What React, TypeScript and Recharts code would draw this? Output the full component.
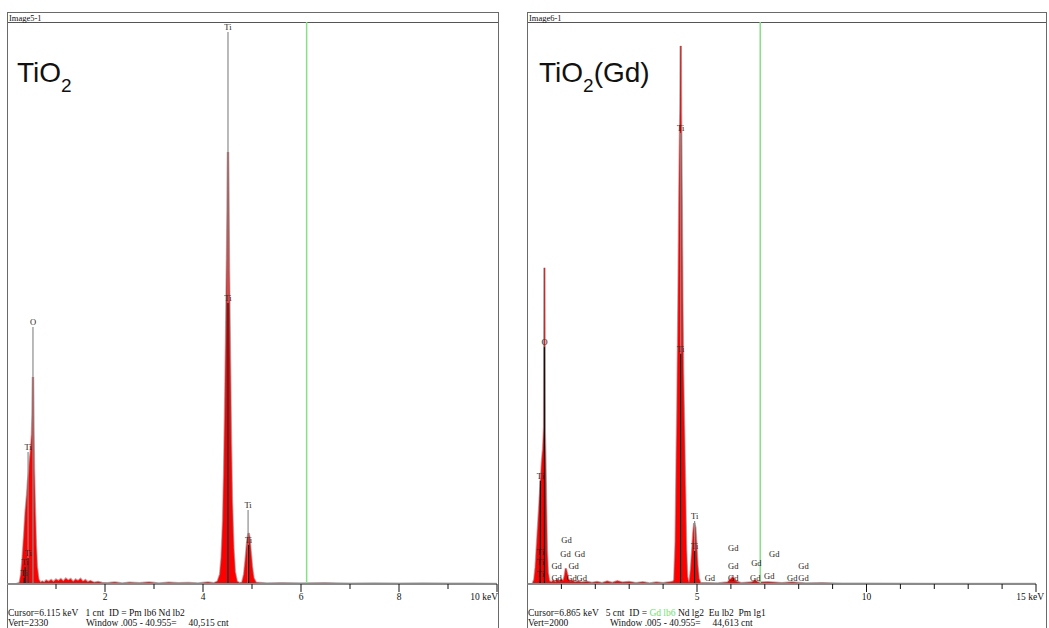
import React from "react";
import { ComposedChart, Area, XAxis, YAxis, ReferenceLine, Scatter } from "recharts";

// spectrum of TiO2: [keV, counts]
const tioSpectrum: [number, number][] = [
  [0.2, 0], [0.26, 5], [0.29, 40], [0.32, 110], [0.35, 200], [0.38, 300], [0.41, 370], [0.43, 430],
  [0.45, 460], [0.47, 520], [0.49, 560], [0.51, 620], [0.52, 700], [0.53, 858], [0.54, 650], [0.55, 480],
  [0.57, 300], [0.59, 160], [0.61, 70], [0.64, 20], [0.68, 5],
  [0.72, 10], [0.76, 6], [0.8, 14], [0.85, 9], [0.9, 16], [0.95, 8], [1.0, 18], [1.05, 12], [1.1, 20],
  [1.15, 10], [1.2, 22], [1.25, 14], [1.3, 20], [1.35, 8], [1.4, 18], [1.45, 12], [1.5, 21], [1.55, 9],
  [1.6, 16], [1.65, 7], [1.7, 12], [1.78, 5], [1.86, 8], [1.94, 4], [2.05, 3], [2.2, 6], [2.35, 2],
  [2.5, 5], [2.7, 3], [2.9, 6], [3.1, 2], [3.3, 5], [3.5, 3], [3.7, 4], [3.9, 2], [4.1, 6], [4.22, 3],
  [4.3, 10], [4.35, 40], [4.38, 110], [4.41, 260], [4.43, 450], [4.45, 700], [4.47, 1000], [4.49, 1350],
  [4.5, 1550], [4.51, 1791], [4.52, 1600], [4.53, 1300], [4.55, 950], [4.57, 600], [4.59, 350],
  [4.62, 150], [4.65, 50], [4.69, 10], [4.74, 4],
  [4.8, 5], [4.84, 40], [4.87, 100], [4.9, 170], [4.92, 200], [4.93, 211], [4.95, 190], [4.97, 140],
  [5.0, 70], [5.03, 25], [5.08, 5],
  [5.3, 2], [5.6, 3], [6.0, 2], [6.5, 3], [7.0, 1], [7.5, 2], [8.0, 1], [8.5, 2], [9.0, 1], [9.5, 1], [10, 0],
];

// spectrum of TiO2(Gd)
const gdSpectrum: [number, number][] = [
  [0.15, 0], [0.2, 15], [0.24, 60], [0.28, 140], [0.32, 220], [0.36, 300], [0.4, 380], [0.43, 440],
  [0.46, 480], [0.48, 530], [0.49, 560], [0.5, 1125], [0.51, 540], [0.53, 420], [0.55, 260], [0.57, 120],
  [0.6, 40], [0.64, 10], [0.7, 6],
  [0.76, 12], [0.82, 6], [0.88, 14], [0.94, 8], [1.0, 16], [1.06, 10], [1.1, 30], [1.13, 55], [1.16, 40],
  [1.2, 18], [1.26, 8], [1.32, 12], [1.4, 6], [1.5, 9], [1.6, 5], [1.75, 8], [1.9, 4], [2.05, 7], [2.2, 3],
  [2.35, 9], [2.5, 4], [2.65, 10], [2.8, 5], [3.0, 7], [3.2, 3], [3.4, 6], [3.6, 2], [3.8, 5], [4.0, 3], [4.2, 6],
  [4.3, 8], [4.33, 15], [4.37, 150], [4.4, 450], [4.42, 620], [4.44, 860], [4.46, 1100], [4.48, 1400],
  [4.5, 1620], [4.51, 1690], [4.52, 1915], [4.53, 1650], [4.55, 1350], [4.57, 1000], [4.59, 750],
  [4.62, 550], [4.65, 330], [4.68, 120], [4.71, 25], [4.75, 5],
  [4.78, 5], [4.82, 50], [4.86, 120], [4.89, 180], [4.92, 217], [4.95, 200], [4.98, 140], [5.01, 70],
  [5.05, 20], [5.1, 3],
  [5.3, 3], [5.6, 2], [5.9, 5], [6.0, 18], [6.06, 25], [6.12, 10], [6.3, 3], [6.6, 5], [6.72, 12], [6.8, 5],
  [7.1, 6], [7.5, 3], [7.8, 5], [8.2, 2], [8.7, 3], [9.3, 1], [10, 1], [12, 0], [15, 0],
];

// KLM markers: [keV, counts, label, line colour]
const tioMarkers: [number, number, string, string][] = [
  [0.53, 1066, "O", "#8c8c8c"],
  [0.43, 547, "Ti", "#8c8c8c"],
  [0.43, 108, "Ti", "#222"],
  [0.37, 70, "Ti", "#222"],
  [0.35, 25, "Ti", "#222"],
  [4.51, 2289, "Ti", "#8c8c8c"],
  [4.51, 1165, "Ti", "#111"],
  [4.92, 307, "Ti", "#8c8c8c"],
  [4.93, 162, "Ti", "#111"],
];

const gdMarkers: [number, number, string, string][] = [
  [0.5, 843, "O", "#111"],
  [0.38, 367, "Ti", "#111"],
  [0.38, 96, "Ti", "#222"],
  [0.38, 60, "Ti", "#222"],
  [0.38, 18, "Ti", "#222"],
  [4.52, 1605, "Ti", "#8c8c8c"],
  [4.52, 819, "Ti", "#111"],
  [4.93, 224, "Ti", "#8c8c8c"],
  [4.93, 117, "Ti", "#111"],
  [1.15, 139, "Gd", "none"], [1.12, 89, "Gd", "none"], [1.54, 89, "Gd", "none"],
  [0.86, 46, "Gd", "none"], [1.36, 46, "Gd", "none"], [0.86, 4, "Gd", "none"],
  [1.3, 4, "Gd", "none"], [1.6, 4, "Gd", "none"], [5.38, 4, "Gd", "none"],
  [6.07, 110, "Gd", "none"], [6.07, 46, "Gd", "none"], [6.07, 4, "Gd", "none"],
  [6.75, 57, "Gd", "none"], [6.72, 4, "Gd", "none"], [7.28, 89, "Gd", "none"],
  [7.13, 11, "Gd", "none"], [8.14, 46, "Gd", "none"], [7.81, 4, "Gd", "none"], [8.14, 4, "Gd", "none"],
];

const tioTicks = [1, 2, 3, 4, 5, 6, 7, 8, 9, 10];
const tioMajor = [2, 4, 6, 8, 10];
const gdTicks = [1, 2, 3, 4, 5, 6, 7, 8, 9, 10, 11, 12, 13, 14, 15];
const gdMajor = [5, 10, 15];

const serif = "'Liberation Serif', 'Times New Roman', serif";
const sans = "'Liberation Sans', Arial, sans-serif";

const MarkerLabel = (props: any) => {
  const { cx, cy, payload } = props;
  return (
    <text x={cx} y={cy - 2} textAnchor="middle" fontSize={8.5} fontFamily={serif} fill="#2a2418">
      {payload.label}
    </text>
  );
};

type PanelProps = {
  left: number;
  width: number;
  marginLeft: number;
  marginRight: number;
  xMax: number;
  vert: number;
  ticks: number[];
  major: number[];
  lastDx: number;
  spectrum: [number, number][];
  markers: [number, number, string, string][];
  cursor: number;
  header: string;
};

function Panel(p: PanelProps) {
  const data = p.spectrum.map(([e, c]) => ({ e, c }));
  const marks = p.markers.map(([e, c, label, line]) => ({ e, c, label, line }));

  const AxisTick = (t: any) => {
    const v = t.payload.value;
    const isMajor = p.major.includes(v);
    const isLast = v === p.xMax;
    return (
      <g>
        <line x1={t.x} x2={t.x} y1={t.y} y2={t.y + (isMajor ? 8 : 5)} stroke="#111" strokeWidth={1} />
        {isMajor && (
          <text
            x={t.x + (isLast ? p.lastDx : 0)}
            y={t.y + 16}
            textAnchor={isLast ? "end" : "middle"}
            fontSize={9.5}
            fontFamily={serif}
            fill="#111"
          >
            {isLast ? `${v} keV` : v}
          </text>
        )}
      </g>
    );
  };

  return (
    <>
      <div
        style={{
          position: "absolute",
          left: p.left,
          top: 12,
          width: p.width,
          height: 630,
          border: "1px solid #6a6a6a",
          boxSizing: "border-box",
        }}
      >
        <div
          style={{
            height: 9,
            borderBottom: "1px solid #555",
            fontFamily: serif,
            fontSize: 8.5,
            lineHeight: "10px",
            paddingLeft: 1,
            color: "#111",
          }}
        >
          {p.header}
        </div>
      </div>
      <div style={{ position: "absolute", left: p.left, top: 22 }}>
        <ComposedChart
          width={p.width}
          height={600}
          data={data}
          margin={{ top: 0, right: p.marginRight, left: p.marginLeft, bottom: 8 }}
        >
          <XAxis
            dataKey="e"
            type="number"
            domain={[0, p.xMax]}
            ticks={p.ticks}
            interval={0}
            height={30}
            tickSize={0}
            tickMargin={0}
            tickLine={false}
            axisLine={{ stroke: "#8a8a8a", strokeWidth: 2 }}
            tick={AxisTick}
            allowDataOverflow
          />
          <YAxis type="number" domain={[0, p.vert]} hide allowDataOverflow />
          <Area
            dataKey="c"
            type="linear"
            stroke="#b4b4b4"
            strokeWidth={2.5}
            fill="#d4d4d4"
            isAnimationActive={false}
          />
          <Area
            dataKey="c"
            type="linear"
            stroke="#e80000"
            strokeWidth={0.6}
            fill="#ff0000"
            fillOpacity={1}
            isAnimationActive={false}
          />
          <ReferenceLine x={p.cursor} stroke="#86e086" strokeWidth={1.5} />
          {marks
            .filter((m) => m.line !== "none")
            .map((m, i) => (
              <ReferenceLine
                key={i}
                segment={[
                  { x: m.e, y: 0 },
                  { x: m.e, y: m.c },
                ]}
                stroke={m.line}
                strokeWidth={1.2}
              />
            ))}
          <Scatter data={marks} dataKey="c" shape={MarkerLabel} isAnimationActive={false} />
        </ComposedChart>
      </div>
    </>
  );
}

const foot: React.CSSProperties = {
  position: "absolute",
  fontFamily: serif,
  fontSize: 9.5,
  whiteSpace: "pre",
  color: "#111",
  lineHeight: "10px",
};

export default function App() {
  return (
    <div
      style={{
        position: "fixed",
        left: 0,
        top: 0,
        width: 1049,
        height: 628,
        background: "#fff",
        overflow: "hidden",
      }}
    >
      <Panel
        left={7}
        width={492}
        marginLeft={0}
        marginRight={2}
        xMax={10}
        vert={2330}
        ticks={tioTicks}
        major={tioMajor}
        lastDx={1}
        spectrum={tioSpectrum}
        markers={tioMarkers}
        cursor={6.115}
        header="Image5-1"
      />
      <Panel
        left={527}
        width={520}
        marginLeft={0.5}
        marginRight={11}
        xMax={15}
        vert={2000}
        ticks={gdTicks}
        major={gdMajor}
        lastDx={8}
        spectrum={gdSpectrum}
        markers={gdMarkers}
        cursor={6.865}
        header="Image6-1"
      />

      <svg
        width={1049}
        height={628}
        style={{ position: "absolute", left: 0, top: 0, pointerEvents: "none" }}
      >
        <text x={17} y={82} fontFamily={sans} fontSize={28} fill="#111">
          TiO
          <tspan fontSize={19} dy={10}>2</tspan>
        </text>
        <text x={539} y={82} fontFamily={sans} fontSize={28} fill="#111">
          TiO
          <tspan fontSize={19} dy={10}>2</tspan>
          <tspan dy={-10}>(Gd)</tspan>
        </text>
      </svg>

      <div style={{ ...foot, left: 8, top: 608 }}>Cursor=6.115 keV   1 cnt  ID = Pm lb6 Nd lb2</div>
      <div style={{ ...foot, left: 8, top: 618 }}>Vert=2330</div>
      <div style={{ ...foot, left: 86, top: 618 }}>Window .005 - 40.955=     40,515 cnt</div>

      <div style={{ ...foot, left: 528, top: 608 }}>
        Cursor=6.865 keV   5 cnt  ID = <span style={{ color: "#6fe06f" }}>Gd lb6</span> Nd lg2  Eu lb2  Pm lg1
      </div>
      <div style={{ ...foot, left: 528, top: 618 }}>Vert=2000</div>
      <div style={{ ...foot, left: 610, top: 618 }}>Window .005 - 40.955=     44,613 cnt</div>
    </div>
  );
}
